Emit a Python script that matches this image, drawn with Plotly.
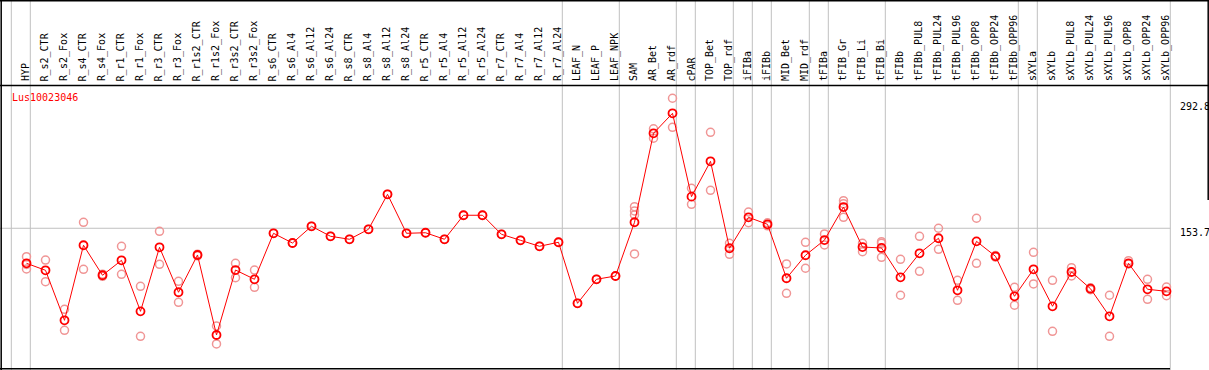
import plotly.graph_objects as go

# ---------------- data ----------------
categories = [
    "HYP", "R_s2_CTR", "R_s2_Fox", "R_s4_CTR", "R_s4_Fox", "R_r1_CTR", "R_r1_Fox",
    "R_r3_CTR", "R_r3_Fox", "R_r1s2_CTR", "R_r1s2_Fox", "R_r3s2_CTR", "R_r3s2_Fox",
    "R_s6_CTR", "R_s6_Al4", "R_s6_Al12", "R_s6_Al24", "R_s8_CTR", "R_s8_Al4",
    "R_s8_Al12", "R_s8_Al24", "R_r5_CTR", "R_r5_Al4", "R_r5_Al12", "R_r5_Al24",
    "R_r7_CTR", "R_r7_Al4", "R_r7_Al12", "R_r7_Al24", "LEAF_N", "LEAF_P", "LEAF_NPK",
    "SAM", "AR_Bet", "AR_rdf", "cPAR", "TOP_Bet", "TOP_rdf", "iFIBa", "iFIBb",
    "MID_Bet", "MID_rdf", "tFIBa", "tFIB_Gr", "tFIB_Li", "tFIB_Bi", "tFIBb",
    "tFIBb_PUL8", "tFIBb_PUL24", "tFIBb_PUL96", "tFIBb_OPP8", "tFIBb_OPP24",
    "tFIBb_OPP96", "sXYLa", "sXYLb", "sXYLb_PUL8", "sXYLb_PUL24", "sXYLb_PUL96",
    "sXYLb_OPP8", "sXYLb_OPP24", "sXYLb_OPP96",
]

means = [
    116.2, 108.7, 55.2, 135.5, 103.4, 119.4, 64.8, 133.3, 85.2, 125.1, 39.5, 109.0, 99.1,
    148.3, 137.9, 155.8, 145.1, 141.9, 152.6, 190.0, 148.3, 148.9, 141.9, 167.6, 167.6,
    147.2, 140.8, 134.4, 138.7, 73.4, 99.1, 102.6,
    160.1, 255.3, 276.7, 187.5, 225.3, 132.3, 165.4, 157.9, 100.2, 124.8, 141.1,
    176.4, 133.6, 132.6, 101.2, 126.9, 143.0, 87.3, 139.7, 123.7, 80.9,
    109.8, 70.2, 106.9, 89.0, 59.5, 116.2, 88.4, 86.2,
]

replicates = [
    [123.3, 115.0, 110.1], [119.7, 96.5], [67.0, 44.5], [160.1, 109.8], [104.5, 102.3],
    [134.4, 104.4], [91.6, 38.1], [150.4, 115.1], [96.9, 74.5], [126.0, 124.2],
    [49.1, 29.9], [116.2, 100.8], [109.0, 90.5],
    [148.3], [137.9], [155.8], [145.1], [141.9], [152.6], [190.0], [148.3], [148.9],
    [141.9], [167.6], [167.6], [147.2], [140.8], [134.4], [138.7], [73.4], [99.1], [102.6],
    [176.8, 172.2, 167.9, 126.2], [260.1, 250.0], [292.8, 261.7], [196.5, 179.3],
    [256.4, 194.3], [137.6, 125.8], [171.1, 159.6], [159.5, 156.3], [115.5, 84.1],
    [138.7, 110.9], [147.6, 135.8], [183.2, 180.0, 165.4], [137.6, 128.6],
    [139.3, 137.6, 122.6], [120.5, 82.0], [145.1, 107.6], [153.7, 131.2], [98.0, 76.6],
    [164.4, 116.2], [124.5, 122.9], [90.5, 71.3],
    [128.0, 94.1], [98.0, 43.4], [111.5, 102.6], [90.0, 88.0], [82.0, 38.1],
    [119.0, 115.5], [99.1, 77.7], [90.8, 81.5],
]

# group separators (index of the last column of each group)
group_ends = [-1, 0, 28, 31, 34, 35, 37, 38, 39, 41, 42, 45, 52, 53, 60]

axis_tick_values = [292.8, 153.7, 0]
axis_tick_text = ["292.8", "153.7", "0"]
gene_name = "Lus10023046"

# ---------------- geometry / style ----------------
W, H = 1209, 370
X0, DX = 26.5, 19.0        # pixel of first column, pixel step
Y0, DY = 371.9, 0.9346     # pixel of value 0, pixels per unit
FONT = "DejaVu Sans Mono"
GRID = "#c0c0c0"
RED = "#ff0000"
PINK = "rgb(240,150,150)"
tick_yshift = [-8.4, -4.0, 10.2]

x_range = [(0 - X0) / DX, (W - X0) / DX]
y_range = [(Y0 - H) / DY, Y0 / DY]

xs = list(range(len(categories)))
rep_x, rep_y = [], []
for i, reps in enumerate(replicates):
    for v in reps:
        rep_x.append(i)
        rep_y.append(v)

fig = go.Figure()
fig.add_trace(go.Scatter(
    x=rep_x, y=rep_y, mode="markers",
    marker=dict(symbol="circle-open", size=8, color=PINK, line=dict(width=1.5, color=PINK)),
    hoverinfo="skip", showlegend=False,
))
fig.add_trace(go.Scatter(
    x=xs, y=means, mode="lines+markers",
    line=dict(color=RED, width=1),
    marker=dict(symbol="circle-open", size=8, color=RED, line=dict(width=1.8, color=RED)),
    showlegend=False, text=categories,
))

shapes = []
# vertical group separators
for g in group_ends:
    xv = g + 3.8 / DX
    shapes.append(dict(type="line", xref="x", yref="paper", x0=xv, x1=xv, y0=0, y1=1,
                       line=dict(color=GRID, width=1), layer="below"))
# horizontal gridline at middle tick
shapes.append(dict(type="line", xref="paper", yref="y", x0=0, x1=(X0 + DX * 60 + 3.8) / W,
                   y0=axis_tick_values[1], y1=axis_tick_values[1],
                   line=dict(color=GRID, width=1), layer="below"))

def hline(py, x0p=0, x1p=W):
    return dict(type="line", xref="paper", yref="paper", x0=x0p / W, x1=x1p / W,
                y0=1 - py / H, y1=1 - py / H, line=dict(color="black", width=1.5))

def vline(px, y0p, y1p):
    return dict(type="line", xref="paper", yref="paper", x0=px / W, x1=px / W,
                y0=1 - y0p / H, y1=1 - y1p / H, line=dict(color="black", width=1.5))

shapes += [hline(0.7), hline(85.5), hline(368.7, 0, 1170), vline(1.2, 0, 370), vline(1208.2, 0, 200)]

annotations = []
for i, name in enumerate(categories):
    annotations.append(dict(
        x=i, xref="x", y=1 - 83.5 / H, yref="paper", text=name, showarrow=False,
        textangle=-90, xanchor="center", yanchor="bottom", xshift=-1,
        font=dict(family=FONT, size=10, color="black"),
    ))
annotations.append(dict(
    x=9.5 / W, xref="paper", y=1 - 97.5 / H, yref="paper", text=gene_name,
    showarrow=False, xanchor="left", yanchor="middle",
    font=dict(family=FONT, size=10, color=RED),
))
for v, t, sh in zip(axis_tick_values, axis_tick_text, tick_yshift):
    annotations.append(dict(
        x=1177.5 / W, xref="paper", y=v, yref="y", text=t, showarrow=False,
        xanchor="left", yanchor="middle", yshift=sh,
        font=dict(family=FONT, size=10, color="black"),
    ))

fig.update_layout(
    width=W, height=H, margin=dict(l=0, r=0, t=0, b=0),
    paper_bgcolor="white", plot_bgcolor="white",
    xaxis=dict(range=x_range, visible=False, fixedrange=True),
    yaxis=dict(range=y_range, visible=False, fixedrange=True),
    shapes=shapes, annotations=annotations, showlegend=False,
)

fig.write_html(
    "out.html",
    config={"displayModeBar": False},
    post_script="document.body.style.margin='0';document.body.style.overflow='hidden';",
)
